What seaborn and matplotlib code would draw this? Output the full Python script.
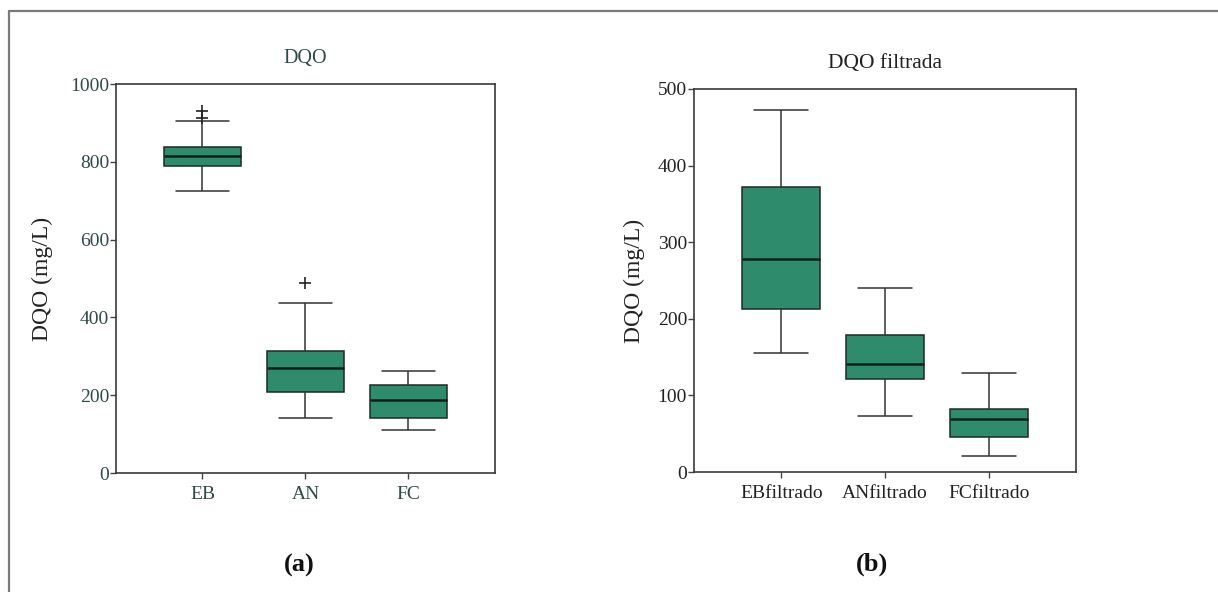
import numpy as np
import pandas as pd
import matplotlib
matplotlib.use("Agg")
import matplotlib.pyplot as plt
from matplotlib.lines import Line2D
import seaborn as sns

# Five-number summaries (lower whisker, Q1, median, Q3, upper whisker), mg/L
cats_a = ["EB", "AN", "FC"]
summ_a = {
    "EB": [725, 789, 815, 838, 905],
    "AN": [141, 208, 270, 314, 437],
    "FC": [110, 141, 188, 226, 262],
}
out_cat_a = ["EB", "EB", "AN"]
out_val_a = [912, 931, 489]

cats_b = ["EBfiltrado", "ANfiltrado", "FCfiltrado"]
summ_b = {
    "EBfiltrado": [155, 213, 278, 372, 473],
    "ANfiltrado": [73, 121, 141, 179, 240],
    "FCfiltrado": [21, 46, 69, 82, 129],
}
out_cat_b = []
out_val_b = []

titles = ["DQO", "DQO filtrada"]
ylabel = "DQO (mg/L)"
panel_tags = ["(a)", "(b)"]
yticks_a = [0, 200, 400, 600, 800, 1000]
yticks_b = [0, 100, 200, 300, 400, 500]

FILL = "#2e8b6b"
EDGE = "#1e2a26"

sns.set_theme(style="ticks")
plt.rcParams["font.family"] = ["Liberation Serif", "DejaVu Serif"]

fig = plt.figure(figsize=(12.18, 5.92), dpi=100)

def long_frame(summ, cats):
    rows = [(c, v) for c in cats for v in summ[c]]
    return pd.DataFrame(rows, columns=["grupo", "valor"])

def panel(rect, summ, cats, out_c, out_v, title, tsize, ylim, yticks,
          txtcol, tpad, lpad):
    ax = fig.add_axes(rect)
    df = long_frame(summ, cats)
    # whis=(0, 100): whiskers run to the summary extremes
    sns.boxplot(data=df, x="grupo", y="valor", order=cats, ax=ax,
                whis=(0, 100), width=0.75, color=FILL, saturation=1,
                linecolor=EDGE, linewidth=1.1, fliersize=0, capwidths=0.52,
                medianprops=dict(color="#10201a", linewidth=1.8),
                whiskerprops=dict(color="#333333", linewidth=1.1),
                capprops=dict(color="#333333", linewidth=1.1))
    if out_c:
        od = pd.DataFrame({"grupo": out_c, "valor": out_v})
        sns.stripplot(data=od, x="grupo", y="valor", order=cats, ax=ax,
                      jitter=False, marker="+", s=8, color="#222222",
                      linewidth=1.2)
    ax.set_xlim(-0.84, 2.84)
    ax.set_ylim(*ylim)
    ax.set_yticks(yticks)
    ax.set_xlabel("")
    ax.set_ylabel(ylabel, fontsize=17, color="#222222", labelpad=lpad)
    ax.set_title(title, fontsize=tsize, color=txtcol, pad=tpad)
    ax.tick_params(axis="both", direction="out", length=4, width=1,
                   color="#444444", labelsize=14, labelcolor=txtcol)
    ax.tick_params(axis="y", pad=1)
    ax.tick_params(axis="x", pad=5)
    for s in ax.spines.values():
        s.set_visible(True)
        s.set_color("#3a3a3a")
        s.set_linewidth(1.2)
    return ax

ax1 = panel([0.0952, 0.2010, 0.3112, 0.6571], summ_a, cats_a, out_cat_a,
            out_val_a, titles[0], 14.5, (0, 1000), yticks_a, "#2f4a48", 15, 12)
ax2 = panel([0.5698, 0.2027, 0.3136, 0.6470], summ_b, cats_b, out_cat_b,
            out_val_b, titles[1], 15.5, (0, 500), yticks_b, "#222222", 15, 9)

fig.text(299 / 1218, 1 - 565 / 592, panel_tags[0], ha="center", va="center",
         fontsize=19, fontweight="bold", color="#111111")
fig.text(872 / 1218, 1 - 564 / 592, panel_tags[1], ha="center", va="center",
         fontsize=19, fontweight="bold", color="#111111")

# Open frame around the figure (left and top edges)
fx, fy = 9 / 1218, 1 - 11 / 592
fig.add_artist(Line2D([fx, fx], [0, fy], transform=fig.transFigure,
                      color="#7a7a7a", linewidth=1.6))
fig.add_artist(Line2D([fx, 1], [fy, fy], transform=fig.transFigure,
                      color="#7a7a7a", linewidth=1.6))

fig.savefig("out.png", dpi=100, facecolor="white")
